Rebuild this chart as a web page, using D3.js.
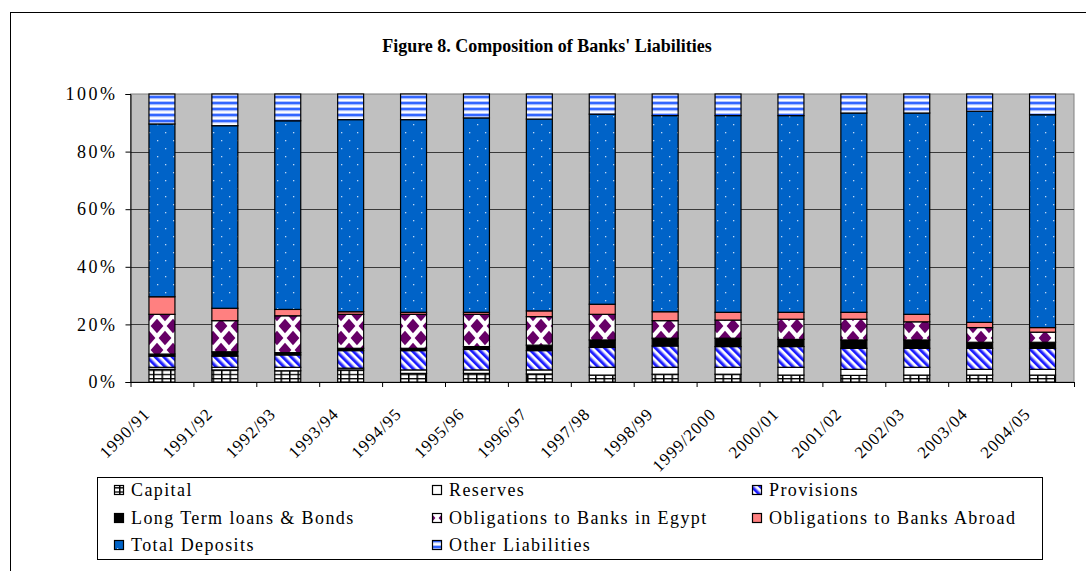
<!DOCTYPE html>
<html>
<head>
<meta charset="utf-8">
<script src="https://cdn.jsdelivr.net/npm/d3@7"></script>
<style>
  html, body { margin: 0; padding: 0; background: #fff; }
  svg { display: block; }
  text { font-family: "Liberation Serif", "Times New Roman", serif; fill: #000; }
</style>
</head>
<body>
<svg id="chart" width="1086" height="571"></svg>
<script>
// Fiscal years on the x axis
const categories = ["1990/91", "1991/92", "1992/93", "1993/94", "1994/95", "1995/96", "1996/97",
  "1997/98", "1998/99", "1999/2000", "2000/01", "2001/02", "2002/03", "2003/04", "2004/05"];

// Share of total liabilities, in percent
const capital     = [4.4, 4.2, 3.9, 4.2, 3.0, 3.0, 2.8, 2.4, 2.7, 2.7, 2.4, 2.3, 2.4, 2.4, 2.4];
const reserves    = [0.7, 0.9, 1.2, 0.6, 1.2, 1.2, 1.4, 2.7, 2.4, 2.4, 2.7, 2.1, 2.7, 2.0, 2.0];
const provisions  = [3.9, 3.9, 4.3, 6.1, 6.7, 7.1, 6.7, 6.9, 7.4, 7.2, 7.2, 7.3, 6.6, 7.3, 7.3];
const longTerm    = [0.7, 1.5, 0.8, 0.8, 0.8, 1.0, 1.9, 2.6, 2.7, 2.9, 2.5, 2.9, 2.9, 2.1, 2.1];
const banksEgypt  = [13.8, 10.8, 12.8, 11.8, 11.8, 11.2, 9.9, 8.9, 6.1, 6.3, 7.0, 7.2, 6.3, 5.1, 3.5];
const banksAbroad = [6.1, 4.3, 2.2, 0.9, 0.7, 0.7, 2.0, 3.5, 3.1, 2.7, 2.4, 2.4, 2.6, 1.8, 1.6];
const deposits    = [60.0, 63.4, 65.5, 66.7, 66.9, 67.5, 66.6, 66.0, 68.1, 68.3, 68.3, 69.2, 69.9, 73.3, 73.9];
const other       = [10.4, 11.0, 9.3, 8.9, 8.9, 8.3, 8.7, 7.0, 7.5, 7.5, 7.5, 6.6, 6.6, 6.0, 7.2];

const seriesNames = ["Capital", "Reserves", "Provisions", "Long Term loans & Bonds",
  "Obligations to Banks in Egypt", "Obligations to Banks Abroad", "Total Deposits", "Other Liabilities"];
const seriesValues = [capital, reserves, provisions, longTerm, banksEgypt, banksAbroad, deposits, other];

const yTicks = [0, 0.2, 0.4, 0.6, 0.8, 1.0];
const titleText = "Figure 8. Composition of Banks' Liabilities";

const svg = d3.select("#chart");
const W = 1086, H = 571;
const plot = { left: 130.5, right: 1074, top: 94, bottom: 382 };

// ---- fill patterns ----
const defs = svg.append("defs");
const fills = [];

// Capital: white grid cells
{
  const p = defs.append("pattern").attr("id", "p0").attr("patternUnits", "userSpaceOnUse")
    .attr("width", 8.5).attr("height", 4.2);
  p.append("rect").attr("width", 8.5).attr("height", 4.2).attr("fill", "#fff");
  p.append("rect").attr("width", 8.5).attr("height", 1.3).attr("fill", "#000");
  p.append("rect").attr("width", 1.5).attr("height", 4.2).attr("fill", "#000");
  fills.push("url(#p0)");
}
// Reserves: plain white
fills.push("#ffffff");
// Provisions: blue diagonal stripes
{
  const p = defs.append("pattern").attr("id", "p2").attr("patternUnits", "userSpaceOnUse")
    .attr("width", 6).attr("height", 6).attr("patternTransform", "rotate(-45)");
  p.append("rect").attr("width", 6).attr("height", 6).attr("fill", "#fff");
  p.append("rect").attr("width", 2.8).attr("height", 6).attr("fill", "#1a1aff");
  p.append("rect").attr("x", 2.8).attr("width", 0.7).attr("height", 6).attr("fill", "#8080ff");
  fills.push("url(#p2)");
}
// Long term loans: black
fills.push("#000000");
// Banks in Egypt: purple diamonds on white
{
  const p = defs.append("pattern").attr("id", "p4").attr("patternUnits", "userSpaceOnUse")
    .attr("width", 16).attr("height", 24).attr("x", 5).attr("y", 2);
  p.append("rect").attr("width", 16).attr("height", 24).attr("fill", "#fff");
  const dia = (cx, cy) => `M${cx},${cy - 7.2}L${cx + 6.4},${cy}L${cx},${cy + 7.2}L${cx - 6.4},${cy}Z`;
  [[0, 0], [16, 0], [8, 12], [0, 24], [16, 24]].forEach(([cx, cy]) =>
    p.append("path").attr("d", dia(cx, cy)).attr("fill", "#660066"));
  fills.push("url(#p4)");
}
// Banks abroad: salmon
fills.push("#ff8080");
// Total deposits: blue with white dots
{
  const p = defs.append("pattern").attr("id", "p6").attr("patternUnits", "userSpaceOnUse")
    .attr("width", 16).attr("height", 16).attr("x", 1);
  p.append("rect").attr("width", 16).attr("height", 16).attr("fill", "#0063c8");
  p.append("rect").attr("x", 4).attr("y", 4).attr("width", 1.3).attr("height", 1.3).attr("fill", "#bcd6f5");
  p.append("rect").attr("x", 12).attr("y", 12).attr("width", 1.3).attr("height", 1.3).attr("fill", "#bcd6f5");
  fills.push("url(#p6)");
}
// Other liabilities: horizontal blue/white stripes
{
  const p = defs.append("pattern").attr("id", "p7").attr("patternUnits", "userSpaceOnUse")
    .attr("width", 8).attr("height", 6);
  p.append("rect").attr("width", 8).attr("height", 6).attr("fill", "#fff");
  p.append("rect").attr("y", 0).attr("width", 8).attr("height", 2.4).attr("fill", "#3366ff");
  p.append("rect").attr("y", 2.4).attr("width", 8).attr("height", 0.8).attr("fill", "#9fb6ff");
  p.append("rect").attr("y", 5.2).attr("width", 8).attr("height", 0.8).attr("fill", "#9fb6ff");
  fills.push("url(#p7)");
}

// ---- background and frame ----
svg.append("rect").attr("width", W).attr("height", H).attr("fill", "#fff");
svg.append("rect").attr("x", 10.5).attr("y", 12.5).attr("width", 1100).attr("height", 600)
  .attr("fill", "none").attr("stroke", "#000").attr("stroke-width", 1);

svg.append("text").attr("x", 547).attr("y", 52).attr("text-anchor", "middle")
  .attr("font-size", 18).attr("font-weight", "bold").text(titleText);

// ---- scales ----
const x = d3.scaleBand().domain(categories).range([plot.left, plot.right])
  .paddingInner(0.587).paddingOuter(0.2935);
const y = d3.scaleLinear().domain([0, 1]).range([plot.bottom, plot.top]);
const xEdge = d3.scaleLinear().domain([0, categories.length]).range([plot.left, plot.right]);

// plot area
svg.append("rect").attr("x", plot.left).attr("y", plot.top)
  .attr("width", plot.right - plot.left).attr("height", plot.bottom - plot.top)
  .attr("fill", "#c0c0c0").attr("stroke", "#808080").attr("stroke-width", 1);

// gridlines
svg.append("g").selectAll("line").data(yTicks.filter(t => t > 0 && t < 1)).join("line")
  .attr("x1", plot.left).attr("x2", plot.right)
  .attr("y1", d => Math.round(y(d)) + 0.5).attr("y2", d => Math.round(y(d)) + 0.5)
  .attr("stroke", "#3a3a3a").attr("stroke-width", 1);

// ---- stacked bars ----
const rows = categories.map((c, i) => {
  const r = { cat: c };
  seriesNames.forEach((s, k) => r[s] = seriesValues[k][i] / 100);
  return r;
});
const stacked = d3.stack().keys(seriesNames)(rows);

svg.append("g").selectAll("g").data(stacked).join("g")
  .attr("fill", (d, k) => fills[k])
  .selectAll("rect").data(d => d).join("rect")
  .attr("x", d => x(d.data.cat))
  .attr("y", d => y(d[1]))
  .attr("width", x.bandwidth())
  .attr("height", d => y(d[0]) - y(d[1]))
  .attr("stroke", "#000").attr("stroke-width", 1.2);

// ---- axes ----
const yAxis = svg.append("g").attr("transform", `translate(${plot.left},0)`)
  .call(d3.axisLeft(y).tickValues(yTicks).tickFormat(d3.format(".0%")).tickSize(5).tickPadding(8));
yAxis.select(".domain").attr("stroke", "#000");
yAxis.selectAll("text").attr("font-size", 18).attr("letter-spacing", "2.5px")
  .style("font-family", "Liberation Serif, serif");

const xAxis = svg.append("g").attr("transform", `translate(0,${plot.bottom})`)
  .call(d3.axisBottom(xEdge).tickValues(d3.range(categories.length + 1)).tickFormat("").tickSize(5).tickSizeOuter(0));
xAxis.select(".domain").attr("stroke", "#000");

svg.append("g").selectAll("text").data(categories).join("text")
  .attr("transform", d => `translate(${x(d) + x.bandwidth() / 2 - 11},${plot.bottom + 33}) rotate(-45)`)
  .attr("text-anchor", "end")
  .attr("font-size", 17).attr("letter-spacing", "1px")
  .text(d => d);

// ---- legend ----
const legend = svg.append("g");
legend.append("rect").attr("x", 97.5).attr("y", 477.5).attr("width", 945).attr("height", 82)
  .attr("fill", "#fff").attr("stroke", "#000").attr("stroke-width", 1);
const colX = [114, 432, 752];
const rowY = [490, 518, 545];
seriesNames.forEach((name, k) => {
  const cx = colX[k % 3], cy = rowY[Math.floor(k / 3)];
  const g = legend.append("g");
  g.append("rect").attr("x", cx + 0.5).attr("y", cy - 4.5).attr("width", 9).attr("height", 9)
    .attr("fill", fills[k]).attr("stroke", "#000").attr("stroke-width", 1.2);
  g.append("text").attr("x", cx + 17).attr("y", cy + 6).attr("font-size", 18)
    .attr("letter-spacing", "1.4px").text(name);
});
</script>
</body>
</html>
